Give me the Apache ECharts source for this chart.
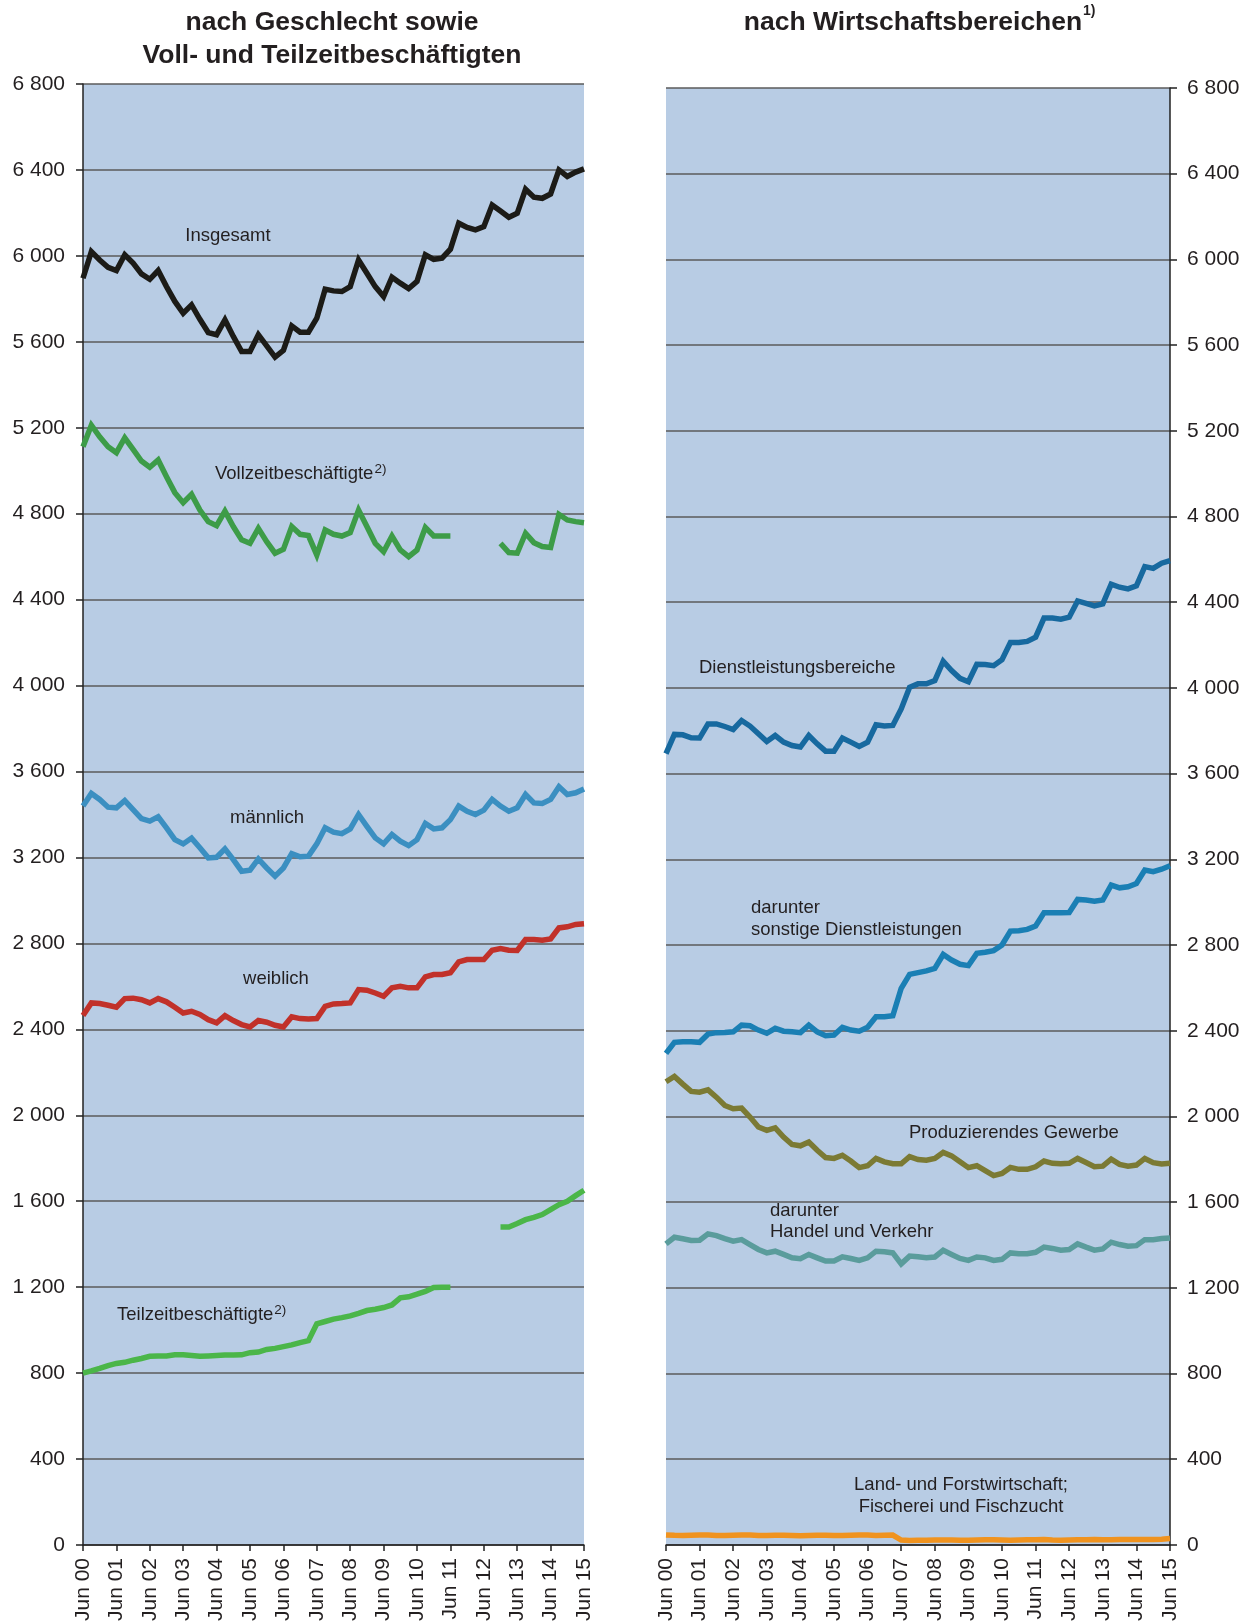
<!DOCTYPE html>
<html>
<head>
<meta charset="utf-8">
<script src="https://cdn.jsdelivr.net/npm/echarts@6/dist/echarts.min.js"></script>
<style>
html,body{margin:0;padding:0;background:#fff;}
#c{width:1249px;height:1624px;}
</style>
</head>
<body>
<div id="c"></div>
<script>
// ---- categories (quarterly, Jun 2000 – Jun 2015) ----
const quarterNames = ['Jun', 'Sep', 'Dez', 'Mär'];
const categories = [];
for (let i = 0; i <= 60; i++) {
  const y = 2000 + Math.floor((i + 2) / 4);
  categories.push(quarterNames[i % 4] + ' ' + String(y % 100).padStart(2, '0'));
}
const yTicks = [0, 400, 800, 1200, 1600, 2000, 2400, 2800, 3200, 3600, 4000, 4400, 4800, 5200, 5600, 6000, 6400, 6800];

// ---- left panel: nach Geschlecht sowie Voll- und Teilzeitbeschäftigten ----
const insgesamt = [5896, 6020, 5981, 5947, 5932, 6005, 5966, 5916, 5891, 5932,
  5857, 5788, 5733, 5772, 5705, 5643, 5633, 5702, 5625, 5555,
  5555, 5633, 5581, 5529, 5560, 5674, 5645, 5645, 5710, 5845,
  5837, 5834, 5857, 5981, 5919, 5857, 5811, 5901, 5873, 5848,
  5881, 6005, 5984, 5989, 6031, 6152, 6132, 6121, 6136, 6237,
  6209, 6180, 6198, 6310, 6273, 6268, 6288, 6400, 6370, 6390, 6405];
const vollzeit = [5112, 5212, 5158, 5112, 5084, 5153, 5099, 5045, 5016, 5050,
  4972, 4898, 4851, 4890, 4817, 4763, 4744, 4812, 4740, 4678,
  4662, 4732, 4670, 4616, 4634, 4740, 4704, 4698, 4608, 4724,
  4704, 4696, 4712, 4817, 4740, 4662, 4623, 4696, 4631, 4600,
  4631, 4736, 4696, 4696, 4696, null, null, null, null, null,
  4662, 4619, 4616, 4709, 4665, 4647, 4643, 4797, 4771, 4763, 4758];
const teilzeit = [800, 810, 822, 835, 845, 850, 860, 868, 878, 880,
  880, 885, 885, 882, 878, 880, 882, 884, 884, 885,
  895, 898, 910, 915, 923, 931, 942, 951, 1029, 1040,
  1051, 1058, 1066, 1078, 1091, 1097, 1105, 1117, 1150, 1155,
  1167, 1180, 1198, 1200, 1200, null, null, null, null, null,
  1480, 1480, 1496, 1514, 1525, 1538, 1561, 1584, 1600, 1626, 1651];
const maennlich = [3439, 3498, 3470, 3434, 3431, 3465, 3423, 3381, 3369, 3389,
  3338, 3283, 3263, 3290, 3245, 3198, 3201, 3240, 3190, 3136,
  3141, 3193, 3151, 3113, 3151, 3218, 3203, 3206, 3263, 3338,
  3318, 3311, 3333, 3400, 3345, 3291, 3263, 3307, 3276, 3255,
  3283, 3358, 3333, 3338, 3376, 3439, 3415, 3400, 3420, 3470,
  3439, 3415, 3431, 3493, 3454, 3451, 3470, 3529, 3493, 3501, 3519];
const weiblich = [2464, 2523, 2520, 2512, 2503, 2543, 2545, 2538, 2523, 2543,
  2528, 2503, 2476, 2484, 2469, 2445, 2430, 2464, 2441, 2422,
  2411, 2441, 2433, 2419, 2411, 2458, 2450, 2448, 2450, 2507,
  2518, 2520, 2523, 2585, 2582, 2569, 2554, 2593, 2600, 2593,
  2593, 2644, 2655, 2655, 2663, 2714, 2725, 2725, 2725, 2768,
  2776, 2768, 2767, 2818, 2818, 2815, 2821, 2872, 2877, 2888, 2891];

// ---- right panel: nach Wirtschaftsbereichen ----
const dienst = [3693, 3783, 3781, 3767, 3766, 3832, 3832, 3820, 3806, 3848,
  3822, 3786, 3750, 3778, 3747, 3731, 3724, 3778, 3739, 3705,
  3705, 3766, 3747, 3727, 3747, 3828, 3822, 3825, 3902, 4003,
  4019, 4019, 4034, 4124, 4081, 4045, 4029, 4110, 4109, 4104,
  4132, 4212, 4212, 4217, 4237, 4326, 4326, 4321, 4330, 4406,
  4395, 4383, 4392, 4484, 4470, 4462, 4476, 4566, 4558, 4582, 4594];
const sonstige = [2294, 2346, 2349, 2349, 2346, 2384, 2391, 2392, 2395, 2426,
  2423, 2403, 2388, 2411, 2398, 2395, 2391, 2426, 2395, 2377,
  2380, 2416, 2403, 2398, 2416, 2465, 2465, 2470, 2598, 2663,
  2671, 2679, 2691, 2756, 2730, 2710, 2704, 2761, 2766, 2774,
  2800, 2865, 2867, 2873, 2889, 2951, 2951, 2951, 2952, 3013,
  3010, 3005, 3010, 3080, 3067, 3072, 3087, 3150, 3142, 3154, 3170];
const produzierend = [2162, 2187, 2151, 2117, 2113, 2124, 2090, 2051, 2036, 2039,
  1997, 1951, 1935, 1947, 1904, 1869, 1863, 1881, 1842, 1808,
  1804, 1819, 1792, 1761, 1770, 1804, 1788, 1779, 1779, 1812,
  1799, 1796, 1804, 1832, 1816, 1788, 1761, 1770, 1747, 1724,
  1734, 1762, 1753, 1753, 1765, 1792, 1781, 1779, 1781, 1804,
  1785, 1765, 1768, 1801, 1776, 1768, 1773, 1804, 1784, 1778, 1781];
const handel = [1405, 1436, 1429, 1421, 1422, 1452, 1444, 1430, 1418, 1425,
  1402, 1379, 1363, 1371, 1356, 1340, 1336, 1356, 1340, 1325,
  1325, 1345, 1337, 1328, 1340, 1371, 1368, 1363, 1312, 1348,
  1345, 1340, 1344, 1375, 1356, 1337, 1328, 1344, 1340, 1328,
  1333, 1363, 1359, 1359, 1366, 1390, 1384, 1376, 1379, 1405,
  1390, 1376, 1382, 1413, 1402, 1394, 1397, 1425, 1425, 1430, 1433];
const land = [47, 45, 44, 45, 46, 46, 44, 44, 45, 46,
  46, 44, 44, 45, 45, 44, 43, 44, 45, 45,
  44, 44, 45, 46, 46, 44, 45, 46, 23, 21,
  22, 22, 23, 23, 23, 22, 22, 23, 24, 24,
  23, 22, 23, 24, 24, 25, 23, 22, 23, 24,
  24, 25, 24, 24, 25, 26, 26, 26, 25, 27, 30];

// ---- styling ----
const FONT = '"Liberation Sans", Arial, Helvetica, sans-serif';
const TXT = '#231f20';
const BG = '#b8cce4';
const GRIDLINE = '#5b5b5b';
const LW = 5.5;

function fmt(v) {
  if (v >= 1000) return Math.floor(v / 1000) + ' ' + String(v % 1000).padStart(3, '0');
  return String(v);
}

function xAxis(gridIndex) {
  return {
    type: 'category', gridIndex, data: categories, boundaryGap: false,
    axisLine: { show: true, lineStyle: { color: '#222', width: 1.5 } },
    axisTick: { show: true, interval: 3, length: 6, lineStyle: { color: '#222', width: 1.5 } },
    axisLabel: { interval: 3, rotate: 90, margin: 13, fontSize: 21, color: TXT, fontFamily: FONT },
    splitLine: { show: false }
  };
}
function yAxis(gridIndex, pos) {
  return {
    type: 'value', gridIndex, position: pos, min: 0, max: 6800, interval: 400,
    axisLine: { show: true, lineStyle: { color: '#222', width: 1.5 } },
    axisTick: { show: true, length: 7, lineStyle: { color: '#222', width: 1.5 } },
    axisLabel: { margin: pos === 'left' ? 18 : 17, fontSize: 21, color: TXT, fontFamily: FONT, formatter: fmt },
    splitLine: { show: true, lineStyle: { color: GRIDLINE, width: 1.5 } }
  };
}
function line(name, data, color, idx) {
  return {
    name, type: 'line', data, xAxisIndex: idx, yAxisIndex: idx,
    symbol: 'none', connectNulls: false, silent: true, animation: false,
    lineStyle: { color, width: LW, join: 'miter' }
  };
}
function label(text, x, y, align) {
  return { type: 'text', x, y, silent: true,
    style: { text, fill: TXT, fontSize: 18.5, fontFamily: FONT,
      align: align || 'left', verticalAlign: 'middle' } };
}
function supLabel(main, sup, x, y) {
  return { type: 'text', x, y, silent: true,
    style: {
      text: '{n|' + main + '}{s|' + sup + '}',
      align: 'left', verticalAlign: 'middle',
      rich: {
        n: { fontSize: 18.5, fontFamily: FONT, fill: TXT, color: TXT, lineHeight: 24 },
        s: { fontSize: 13.5, fontFamily: FONT, fill: TXT, color: TXT, lineHeight: 14, verticalAlign: 'top', padding: [0, 0, 6, 1] }
      }
    } };
}

const chart = echarts.init(document.getElementById('c'), null, { renderer: 'canvas' });
chart.setOption({
  animation: false,
  backgroundColor: '#ffffff',
  grid: [
    { left: 83, top: 84, width: 501, height: 1461, show: true, backgroundColor: BG, borderWidth: 0 },
    { left: 666, top: 88, width: 504, height: 1458, show: true, backgroundColor: BG, borderWidth: 0 }
  ],
  xAxis: [xAxis(0), xAxis(1)],
  yAxis: [yAxis(0, 'left'), yAxis(1, 'right')],
  series: [
    line('Insgesamt', insgesamt, '#1c1b17', 0),
    line('Vollzeitbeschäftigte', vollzeit, '#3d9c48', 0),
    line('männlich', maennlich, '#3b8fc1', 0),
    line('weiblich', weiblich, '#c1312a', 0),
    line('Teilzeitbeschäftigte', teilzeit, '#4bb649', 0),
    line('Dienstleistungsbereiche', dienst, '#17699f', 1),
    line('sonstige Dienstleistungen', sonstige, '#1a7fb4', 1),
    line('Produzierendes Gewerbe', produzierend, '#7b7a34', 1),
    line('Handel und Verkehr', handel, '#5a9c9c', 1),
    line('Land- und Forstwirtschaft; Fischerei und Fischzucht', land, '#f0931f', 1)
  ],
  graphic: [
    { type: 'text', x: 332, y: 23, silent: true,
      style: { text: 'nach Geschlecht sowie', fill: TXT, fontSize: 26.5, fontWeight: 'bold', fontFamily: FONT, align: 'center', verticalAlign: 'middle' } },
    { type: 'text', x: 332, y: 56, silent: true,
      style: { text: 'Voll- und Teilzeitbeschäftigten', fill: TXT, fontSize: 26.5, fontWeight: 'bold', fontFamily: FONT, align: 'center', verticalAlign: 'middle' } },
    { type: 'text', x: 913, y: 23, silent: true,
      style: { text: 'nach Wirtschaftsbereichen', fill: TXT, fontSize: 26.5, fontWeight: 'bold', fontFamily: FONT, align: 'center', verticalAlign: 'middle' } },
    { type: 'text', x: 1083, y: 11, silent: true,
      style: { text: '1)', fill: TXT, fontSize: 14, fontWeight: 'bold', fontFamily: FONT, align: 'left', verticalAlign: 'middle' } },
    label('Insgesamt', 228, 236, 'center'),
    supLabel('Vollzeitbeschäftigte', '2)', 215, 474),
    label('männlich', 267, 818, 'center'),
    label('weiblich', 276, 979, 'center'),
    supLabel('Teilzeitbeschäftigte', '2)', 117, 1315),
    label('Dienstleistungsbereiche', 699, 668),
    label('darunter', 751, 908),
    label('sonstige Dienstleistungen', 751, 930),
    label('Produzierendes Gewerbe', 909, 1133),
    label('darunter', 770, 1211),
    label('Handel und Verkehr', 770, 1232),
    label('Land- und Forstwirtschaft;', 961, 1485, 'center'),
    label('Fischerei und Fischzucht', 961, 1507, 'center')
  ]
});
</script>
</body>
</html>
